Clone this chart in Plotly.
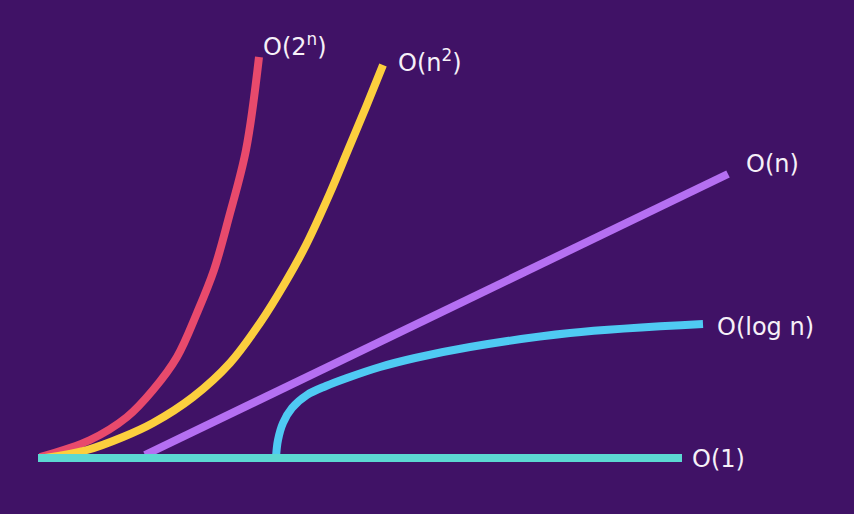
import plotly.graph_objects as go

# Values (x to the right, y downward as in the picture)
const_x = [38, 682]
const_y = [458, 458]

log_x = [276, 278, 283, 292, 307, 326, 347, 380, 415, 470, 570, 703]
log_y = [457, 440, 423, 408, 395, 386, 378, 367, 358, 347, 333, 324]

lin_x = [145, 728]
lin_y = [455, 174]

sq_x = [45, 87, 123, 153, 193, 230, 260, 285, 306, 330, 348, 366, 383]
sq_y = [458, 450, 437, 423, 397, 363, 323, 283, 245, 193, 150, 107, 65]

exp_x = [40, 90, 127, 153, 177, 197, 214, 229, 246, 259]
exp_y = [457, 440, 417, 390, 357, 313, 270, 217, 150, 57]

labels = ["O(2<sup>n</sup>)", "O(n<sup>2</sup>)", "O(n)", "O(log n)", "O(1)"]
label_x = [261, 396, 744, 715, 690]
label_y = [45, 61, 164, 327, 459]

series = [
    (exp_x, exp_y, "#e84a6c"),
    (sq_x, sq_y, "#fccf3e"),
    (lin_x, lin_y, "#b56ff2"),
    (log_x, log_y, "#4fcaf3"),
    (const_x, const_y, "#5cd8d2"),
]

fig = go.Figure()
for xs, ys, col in series:
    fig.add_trace(go.Scatter(
        x=xs, y=ys, mode="lines",
        line=dict(color=col, width=8, shape="spline", smoothing=1.0),
        hoverinfo="skip", showlegend=False,
    ))

for t, x, y in zip(labels, label_x, label_y):
    fig.add_annotation(
        x=x, y=y, text=t, showarrow=False, xanchor="left", yanchor="middle",
        font=dict(family="DejaVu Sans, sans-serif", size=24, color="#f6f0f8"),
    )

fig.update_layout(
    width=854, height=514,
    margin=dict(l=0, r=0, t=0, b=0),
    paper_bgcolor="#401266", plot_bgcolor="#401266",
    xaxis=dict(range=[0, 854], visible=False, fixedrange=True),
    yaxis=dict(range=[514, 0], visible=False, fixedrange=True),
)

fig.write_html(
    "out.html",
    config={"displayModeBar": False},
    post_script="document.body.style.margin='0';document.body.style.background='#401266';",
)
